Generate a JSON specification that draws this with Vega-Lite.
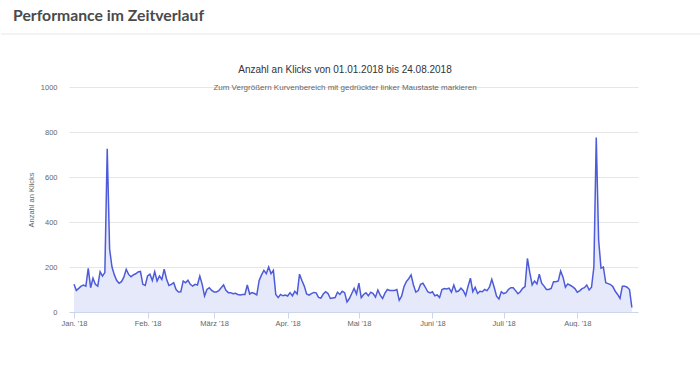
{
"$schema": "https://vega.github.io/schema/vega-lite/v6.json",
"padding": {"left": 0, "top": 8, "right": 0, "bottom": 0},
"config": {"view": {"stroke": null}, "font": "Liberation Sans"},
"datasets": {"klicks": [
{"date":"2018-01-01","klicks":123},{"date":"2018-01-02","klicks":96},{"date":"2018-01-03","klicks":105},{"date":"2018-01-04","klicks":115},{"date":"2018-01-05","klicks":120},{"date":"2018-01-06","klicks":115},{"date":"2018-01-07","klicks":194},{"date":"2018-01-08","klicks":108},{"date":"2018-01-09","klicks":150},{"date":"2018-01-10","klicks":123},{"date":"2018-01-11","klicks":115},{"date":"2018-01-12","klicks":179},{"date":"2018-01-13","klicks":160},{"date":"2018-01-14","klicks":175},{"date":"2018-01-15","klicks":725},{"date":"2018-01-16","klicks":280},{"date":"2018-01-17","klicks":200},{"date":"2018-01-18","klicks":165},{"date":"2018-01-19","klicks":140},{"date":"2018-01-20","klicks":128},{"date":"2018-01-21","klicks":135},{"date":"2018-01-22","klicks":155},{"date":"2018-01-23","klicks":190},{"date":"2018-01-24","klicks":167},{"date":"2018-01-25","klicks":157},{"date":"2018-01-26","klicks":165},{"date":"2018-01-27","klicks":170},{"date":"2018-01-28","klicks":178},{"date":"2018-01-29","klicks":180},{"date":"2018-01-30","klicks":123},{"date":"2018-01-31","klicks":118},
{"date":"2018-02-01","klicks":160},{"date":"2018-02-02","klicks":168},{"date":"2018-02-03","klicks":140},{"date":"2018-02-04","klicks":179},{"date":"2018-02-05","klicks":138},{"date":"2018-02-06","klicks":160},{"date":"2018-02-07","klicks":145},{"date":"2018-02-08","klicks":190},{"date":"2018-02-09","klicks":145},{"date":"2018-02-10","klicks":118},{"date":"2018-02-11","klicks":123},{"date":"2018-02-12","klicks":130},{"date":"2018-02-13","klicks":100},{"date":"2018-02-14","klicks":89},{"date":"2018-02-15","klicks":90},{"date":"2018-02-16","klicks":138},{"date":"2018-02-17","klicks":130},{"date":"2018-02-18","klicks":141},{"date":"2018-02-19","klicks":123},{"date":"2018-02-20","klicks":115},{"date":"2018-02-21","klicks":123},{"date":"2018-02-22","klicks":120},{"date":"2018-02-23","klicks":160},{"date":"2018-02-24","klicks":123},{"date":"2018-02-25","klicks":71},{"date":"2018-02-26","klicks":100},{"date":"2018-02-27","klicks":108},{"date":"2018-02-28","klicks":96},
{"date":"2018-03-01","klicks":89},{"date":"2018-03-02","klicks":89},{"date":"2018-03-03","klicks":95},{"date":"2018-03-04","klicks":108},{"date":"2018-03-05","klicks":120},{"date":"2018-03-06","klicks":96},{"date":"2018-03-07","klicks":86},{"date":"2018-03-08","klicks":86},{"date":"2018-03-09","klicks":81},{"date":"2018-03-10","klicks":83},{"date":"2018-03-11","klicks":78},{"date":"2018-03-12","klicks":76},{"date":"2018-03-13","klicks":78},{"date":"2018-03-14","klicks":78},{"date":"2018-03-15","klicks":120},{"date":"2018-03-16","klicks":80},{"date":"2018-03-17","klicks":86},{"date":"2018-03-18","klicks":82},{"date":"2018-03-19","klicks":76},{"date":"2018-03-20","klicks":140},{"date":"2018-03-21","klicks":165},{"date":"2018-03-22","klicks":185},{"date":"2018-03-23","klicks":170},{"date":"2018-03-24","klicks":200},{"date":"2018-03-25","klicks":170},{"date":"2018-03-26","klicks":185},{"date":"2018-03-27","klicks":78},{"date":"2018-03-28","klicks":64},{"date":"2018-03-29","klicks":78},{"date":"2018-03-30","klicks":72},{"date":"2018-03-31","klicks":75},
{"date":"2018-04-01","klicks":71},{"date":"2018-04-02","klicks":86},{"date":"2018-04-03","klicks":72},{"date":"2018-04-04","klicks":92},{"date":"2018-04-05","klicks":80},{"date":"2018-04-06","klicks":168},{"date":"2018-04-07","klicks":140},{"date":"2018-04-08","klicks":115},{"date":"2018-04-09","klicks":80},{"date":"2018-04-10","klicks":75},{"date":"2018-04-11","klicks":82},{"date":"2018-04-12","klicks":87},{"date":"2018-04-13","klicks":85},{"date":"2018-04-14","klicks":65},{"date":"2018-04-15","klicks":62},{"date":"2018-04-16","klicks":80},{"date":"2018-04-17","klicks":90},{"date":"2018-04-18","klicks":82},{"date":"2018-04-19","klicks":60},{"date":"2018-04-20","klicks":62},{"date":"2018-04-21","klicks":64},{"date":"2018-04-22","klicks":88},{"date":"2018-04-23","klicks":78},{"date":"2018-04-24","klicks":92},{"date":"2018-04-25","klicks":86},{"date":"2018-04-26","klicks":45},{"date":"2018-04-27","klicks":60},{"date":"2018-04-28","klicks":82},{"date":"2018-04-29","klicks":105},{"date":"2018-04-30","klicks":80},
{"date":"2018-05-01","klicks":128},{"date":"2018-05-02","klicks":64},{"date":"2018-05-03","klicks":78},{"date":"2018-05-04","klicks":85},{"date":"2018-05-05","klicks":72},{"date":"2018-05-06","klicks":88},{"date":"2018-05-07","klicks":82},{"date":"2018-05-08","klicks":66},{"date":"2018-05-09","klicks":98},{"date":"2018-05-10","klicks":75},{"date":"2018-05-11","klicks":60},{"date":"2018-05-12","klicks":84},{"date":"2018-05-13","klicks":100},{"date":"2018-05-14","klicks":96},{"date":"2018-05-15","klicks":96},{"date":"2018-05-16","klicks":96},{"date":"2018-05-17","klicks":100},{"date":"2018-05-18","klicks":52},{"date":"2018-05-19","klicks":70},{"date":"2018-05-20","klicks":112},{"date":"2018-05-21","klicks":135},{"date":"2018-05-22","klicks":148},{"date":"2018-05-23","klicks":165},{"date":"2018-05-24","klicks":120},{"date":"2018-05-25","klicks":88},{"date":"2018-05-26","klicks":95},{"date":"2018-05-27","klicks":123},{"date":"2018-05-28","klicks":128},{"date":"2018-05-29","klicks":110},{"date":"2018-05-30","klicks":90},{"date":"2018-05-31","klicks":85},
{"date":"2018-06-01","klicks":90},{"date":"2018-06-02","klicks":72},{"date":"2018-06-03","klicks":76},{"date":"2018-06-04","klicks":64},{"date":"2018-06-05","klicks":100},{"date":"2018-06-06","klicks":104},{"date":"2018-06-07","klicks":102},{"date":"2018-06-08","klicks":106},{"date":"2018-06-09","klicks":88},{"date":"2018-06-10","klicks":120},{"date":"2018-06-11","klicks":90},{"date":"2018-06-12","klicks":93},{"date":"2018-06-13","klicks":106},{"date":"2018-06-14","klicks":95},{"date":"2018-06-15","klicks":73},{"date":"2018-06-16","klicks":115},{"date":"2018-06-17","klicks":150},{"date":"2018-06-18","klicks":90},{"date":"2018-06-19","klicks":110},{"date":"2018-06-20","klicks":82},{"date":"2018-06-21","klicks":92},{"date":"2018-06-22","klicks":90},{"date":"2018-06-23","klicks":100},{"date":"2018-06-24","klicks":95},{"date":"2018-06-25","klicks":110},{"date":"2018-06-26","klicks":145},{"date":"2018-06-27","klicks":110},{"date":"2018-06-28","klicks":70},{"date":"2018-06-29","klicks":58},{"date":"2018-06-30","klicks":90},
{"date":"2018-07-01","klicks":82},{"date":"2018-07-02","klicks":86},{"date":"2018-07-03","klicks":100},{"date":"2018-07-04","klicks":108},{"date":"2018-07-05","klicks":108},{"date":"2018-07-06","klicks":95},{"date":"2018-07-07","klicks":81},{"date":"2018-07-08","klicks":90},{"date":"2018-07-09","klicks":105},{"date":"2018-07-10","klicks":113},{"date":"2018-07-11","klicks":238},{"date":"2018-07-12","klicks":175},{"date":"2018-07-13","klicks":120},{"date":"2018-07-14","klicks":138},{"date":"2018-07-15","klicks":125},{"date":"2018-07-16","klicks":168},{"date":"2018-07-17","klicks":128},{"date":"2018-07-18","klicks":115},{"date":"2018-07-19","klicks":100},{"date":"2018-07-20","klicks":100},{"date":"2018-07-21","klicks":105},{"date":"2018-07-22","klicks":135},{"date":"2018-07-23","klicks":135},{"date":"2018-07-24","klicks":138},{"date":"2018-07-25","klicks":182},{"date":"2018-07-26","klicks":155},{"date":"2018-07-27","klicks":110},{"date":"2018-07-28","klicks":125},{"date":"2018-07-29","klicks":119},{"date":"2018-07-30","klicks":113},{"date":"2018-07-31","klicks":104},
{"date":"2018-08-01","klicks":88},{"date":"2018-08-02","klicks":94},{"date":"2018-08-03","klicks":104},{"date":"2018-08-04","klicks":108},{"date":"2018-08-05","klicks":120},{"date":"2018-08-06","klicks":98},{"date":"2018-08-07","klicks":110},{"date":"2018-08-08","klicks":200},{"date":"2018-08-09","klicks":775},{"date":"2018-08-10","klicks":320},{"date":"2018-08-11","klicks":195},{"date":"2018-08-12","klicks":200},{"date":"2018-08-13","klicks":130},{"date":"2018-08-14","klicks":126},{"date":"2018-08-15","klicks":122},{"date":"2018-08-16","klicks":113},{"date":"2018-08-17","klicks":92},{"date":"2018-08-18","klicks":78},{"date":"2018-08-19","klicks":60},{"date":"2018-08-20","klicks":115},{"date":"2018-08-21","klicks":115},{"date":"2018-08-22","klicks":110},{"date":"2018-08-23","klicks":100},{"date":"2018-08-24","klicks":20}
]},
"spacing": 30,
"vconcat": [
{
"width": 700, "height": 1,
"title": {"text": "Performance im Zeitverlauf", "anchor": "start", "frame": "group", "dx": 12, "offset": -4, "baseline": "alphabetic", "font": "Lato", "fontSize": 15.75, "fontWeight": "bold", "color": "#4a4a4a"},
"data": {"values": [{"y": 0}]},
"mark": {"type": "rule", "color": "#e6e6e6", "strokeWidth": 1},
"encoding": {"y": {"field": "y", "type": "quantitative", "scale": {"domain": [0, 1]}, "axis": null}}
},
{
"spacing": 0,
"hconcat": [
{"width": 26, "height": 225, "data": {"values": []}, "mark": "point"},
{
"width": 569, "height": 225,
"title": {"text": "Anzahl an Klicks von 01.01.2018 bis 24.08.2018", "subtitle": "Zum Vergrößern Kurvenbereich mit gedrückter linker Maustaste markieren", "anchor": "middle", "frame": "group", "dx": -8.5, "offset": -9, "font": "Liberation Sans", "fontSize": 10, "fontWeight": "normal", "color": "#333333", "subtitleFont": "Liberation Sans", "subtitleFontSize": 8, "subtitleColor": "#666666", "subtitlePadding": 9},
"data": {"name": "klicks"},
"mark": {"type": "area", "color": "#dcdff7", "line": {"color": "#4d5bd9", "strokeWidth": 1.5}},
"encoding": {
"x": {"field": "date", "type": "temporal",
"scale": {"type": "utc", "domain": [{"year": 2017, "month": 12, "date": 29, "hours": 21, "minutes": 30, "utc": true}, {"year": 2018, "month": 8, "date": 26, "hours": 14, "utc": true}]},
"axis": {"title": null, "grid": false, "zindex": 1,
"values": [{"year": 2018, "month": 1, "date": 1, "utc": true}, {"year": 2018, "month": 2, "date": 1, "utc": true}, {"year": 2018, "month": 3, "date": 1, "utc": true}, {"year": 2018, "month": 4, "date": 1, "utc": true}, {"year": 2018, "month": 5, "date": 1, "utc": true}, {"year": 2018, "month": 6, "date": 1, "utc": true}, {"year": 2018, "month": 7, "date": 1, "utc": true}, {"year": 2018, "month": 8, "date": 1, "utc": true}],
"labelExpr": "['Jan.','Feb.','März','Apr.','Mai','Juni','Juli','Aug.','Sep.','Okt.','Nov.','Dez.'][utcmonth(datum.value)] + \" '18\"",
"domainColor": "#ccd6eb", "tickColor": "#ccd6eb", "tickSize": 6, "labelPadding": 1, "labelFontSize": 7.5, "labelColor": "#666666", "labelFlush": false, "labelOverlap": false}},
"y": {"field": "klicks", "type": "quantitative",
"scale": {"domain": [0, 1000]},
"axis": {"values": [0, 200, 400, 600, 800, 1000], "format": "d", "grid": true, "gridColor": "#e6e6e6", "domain": false, "ticks": false, "labelPadding": 12, "labelFontSize": 7.5, "labelColor": "#666666", "title": "Anzahl an Klicks", "titleFontSize": 7.5, "titleFontWeight": "normal", "titleColor": "#666666", "titlePadding": 5}}
}
}
]
}
]
}
